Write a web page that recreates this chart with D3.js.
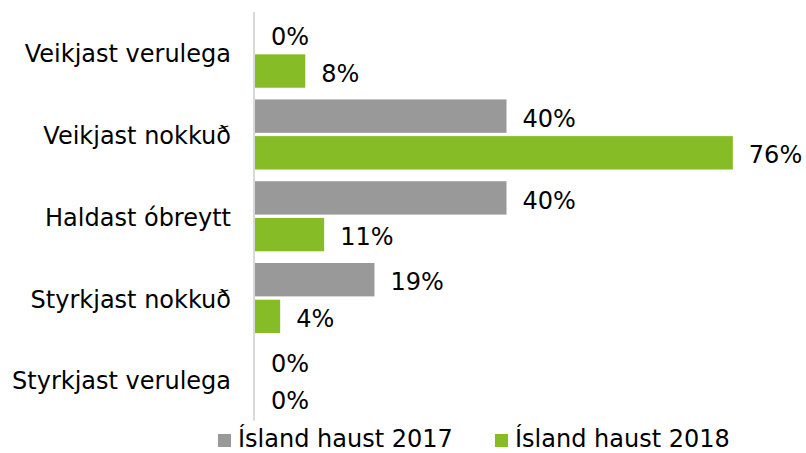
<!DOCTYPE html>
<html>
<head>
<meta charset="utf-8">
<script src="https://cdn.jsdelivr.net/npm/d3@7"></script>
<style>
  body { margin: 0; background: #fff; }
  text { font-family: "DejaVu Sans", Verdana, sans-serif; fill: #000; }
</style>
</head>
<body>
<div id="chart"></div>
<script>
var categories = ["Veikjast verulega", "Veikjast nokkuð", "Haldast óbreytt", "Styrkjast nokkuð", "Styrkjast verulega"];
var seriesNames = ["Ísland haust 2017", "Ísland haust 2018"];
var values2017 = [0, 40, 40, 19, 0];
var values2018 = [8, 76, 11, 4, 0];
var colors = ["#999999", "#86BC25"];

var width = 806, height = 453;
var fontSize = "24px";

var svg = d3.select("#chart")
  .append("svg")
  .attr("width", width)
  .attr("height", height);

var x = d3.scaleLinear()
  .domain([0, 80])
  .range([255, 758]);

var y = d3.scaleBand()
  .domain(categories)
  .range([12, 420.5])
  .paddingInner(0.143)
  .paddingOuter(0.069);

var ySub = d3.scaleBand()
  .domain(seriesNames)
  .range([0, y.bandwidth()])
  .paddingInner(0.09);

var rows = categories.map(function(c, i) {
  return { cat: c, vals: [values2017[i], values2018[i]] };
});

// bars
var groups = svg.selectAll("g.grp")
  .data(rows)
  .enter()
  .append("g")
  .attr("class", "grp")
  .attr("transform", function(d) { return "translate(0," + y(d.cat) + ")"; });

groups.selectAll("rect")
  .data(function(d) { return d.vals.map(function(v, j) { return { s: seriesNames[j], v: v, j: j }; }); })
  .enter()
  .append("rect")
  .attr("x", x(0))
  .attr("y", function(d) { return ySub(d.s); })
  .attr("width", function(d) { return x(d.v) - x(0); })
  .attr("height", ySub.bandwidth())
  .style("fill", function(d) { return colors[d.j]; });

groups.selectAll("text")
  .data(function(d) { return d.vals.map(function(v, j) { return { s: seriesNames[j], v: v }; }); })
  .enter()
  .append("text")
  .attr("x", function(d) { return x(d.v) + 16; })
  .attr("y", function(d) { return ySub(d.s) + ySub.bandwidth() / 2 + 2; })
  .attr("dy", "0.36em")
  .style("font-size", fontSize)
  .text(function(d) { return d.v + "%"; });

// axis line
var yAxis = svg.append("g")
  .attr("transform", "translate(" + (x(0) - 1) + ",0)")
  .call(d3.axisLeft(y).tickSize(0).tickPadding(23));
yAxis.select(".domain")
  .attr("d", "M0,12V420.5")
  .style("stroke", "#d9d9d9")
  .style("stroke-width", 2);
yAxis.selectAll(".tick text")
  .style("font-size", fontSize)
  .style("font-family", "DejaVu Sans, Verdana, sans-serif")
  .style("fill", "#000")
  .attr("dy", "0.4em");

// legend
var legendX = [218, 495];
var legend = svg.selectAll("g.legend")
  .data(seriesNames)
  .enter()
  .append("g")
  .attr("class", "legend")
  .attr("transform", function(d, i) { return "translate(" + legendX[i] + ",434)"; });

legend.append("rect")
  .attr("width", 13)
  .attr("height", 13)
  .style("fill", function(d, i) { return colors[i]; });

legend.append("text")
  .attr("x", 20)
  .attr("y", 4.5)
  .attr("dy", "0.36em")
  .style("font-size", fontSize)
  .text(function(d) { return d; });
</script>
</body>
</html>
